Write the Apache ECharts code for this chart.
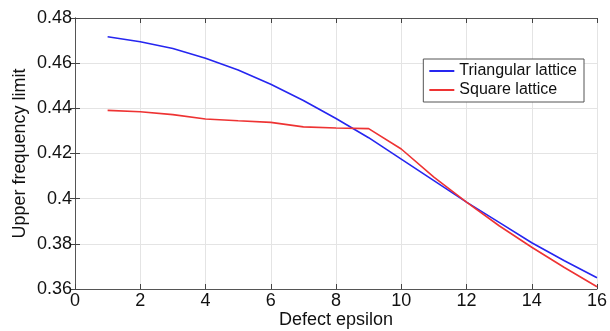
<!DOCTYPE html>
<html>
<head>
<meta charset="utf-8">
<script src="https://cdn.jsdelivr.net/npm/echarts@6/dist/echarts.min.js"></script>
<style>
  html, body { margin: 0; padding: 0; background: #fff; }
  #chart { width: 610px; height: 331px; }
</style>
</head>
<body>
<div id="chart"></div>
<script>
const epsilon = [1, 2, 3, 4, 5, 6, 7, 8, 9, 10, 11, 12, 13, 14, 15, 16];
const triangular = [0.4717, 0.4695, 0.4665, 0.4622, 0.457, 0.4507, 0.4435, 0.4355, 0.427, 0.4175, 0.408, 0.3985, 0.3895, 0.3805, 0.3725, 0.365];
const square = [0.4391, 0.4385, 0.4372, 0.4353, 0.4345, 0.4338, 0.4318, 0.4313, 0.431, 0.422, 0.4095, 0.3985, 0.388, 0.3785, 0.3695, 0.361];

const font = 'Liberation Sans, Arial, sans-serif';
const toPairs = (ys) => epsilon.map((x, i) => [x, ys[i]]);

const chart = echarts.init(document.getElementById('chart'));

const tickStyle = { show: true, inside: true, length: 5, lineStyle: { color: '#444' } };
const lineStyle = { show: true, lineStyle: { color: '#555', width: 1 } };

chart.setOption({
  animation: false,
  grid: { left: 75, right: 13, top: 18, bottom: 42, outerBoundsMode: 'none', containLabel: false },
  legend: {
    right: 26,
    top: 59,
    orient: 'vertical',
    backgroundColor: '#fff',
    borderColor: '#555',
    borderWidth: 1,
    padding: [4, 7, 4, 6],
    itemGap: 3,
    itemWidth: 25,
    itemHeight: 2,
    icon: 'rect',
    textStyle: { fontFamily: font, fontSize: 16, color: '#111' },
    data: ['Triangular lattice', 'Square lattice']
  },
  xAxis: [
    {
      type: 'value', min: 0, max: 16, interval: 2,
      name: 'Defect epsilon', nameLocation: 'middle', nameGap: 22, nameMoveOverlap: false,
      nameTextStyle: { fontFamily: font, fontSize: 18, color: '#111' },
      axisLine: lineStyle, axisTick: tickStyle,
      axisLabel: { fontFamily: font, fontSize: 18, color: '#111', margin: 3 },
      splitLine: { show: true, lineStyle: { color: '#e4e4e4' } }
    },
    {
      type: 'value', min: 0, max: 16, interval: 2, position: 'top',
      axisLine: lineStyle, axisTick: tickStyle,
      axisLabel: { show: false }, splitLine: { show: false }
    }
  ],
  yAxis: [
    {
      type: 'value', min: 0.36, max: 0.48, interval: 0.02,
      name: 'Upper frequency limit', nameLocation: 'middle', nameGap: 46, nameMoveOverlap: false,
      nameTextStyle: { fontFamily: font, fontSize: 18, color: '#111' },
      axisLine: lineStyle, axisTick: tickStyle,
      axisLabel: {
        fontFamily: font, fontSize: 18, color: '#111', margin: 3,
        formatter: (v) => String(Number(v.toFixed(2)))
      },
      splitLine: { show: true, lineStyle: { color: '#e4e4e4' } }
    },
    {
      type: 'value', min: 0.36, max: 0.48, interval: 0.02, position: 'right',
      axisLine: lineStyle, axisTick: tickStyle,
      axisLabel: { show: false }, splitLine: { show: false }
    }
  ],
  series: [
    {
      name: 'Triangular lattice',
      type: 'line',
      data: toPairs(triangular),
      showSymbol: false,
      color: '#2626f0',
      lineStyle: { width: 1.6, color: '#2626f0' }
    },
    {
      name: 'Square lattice',
      type: 'line',
      data: toPairs(square),
      showSymbol: false,
      color: '#ee3333',
      lineStyle: { width: 1.6, color: '#ee3333' }
    }
  ]
});
</script>
</body>
</html>
